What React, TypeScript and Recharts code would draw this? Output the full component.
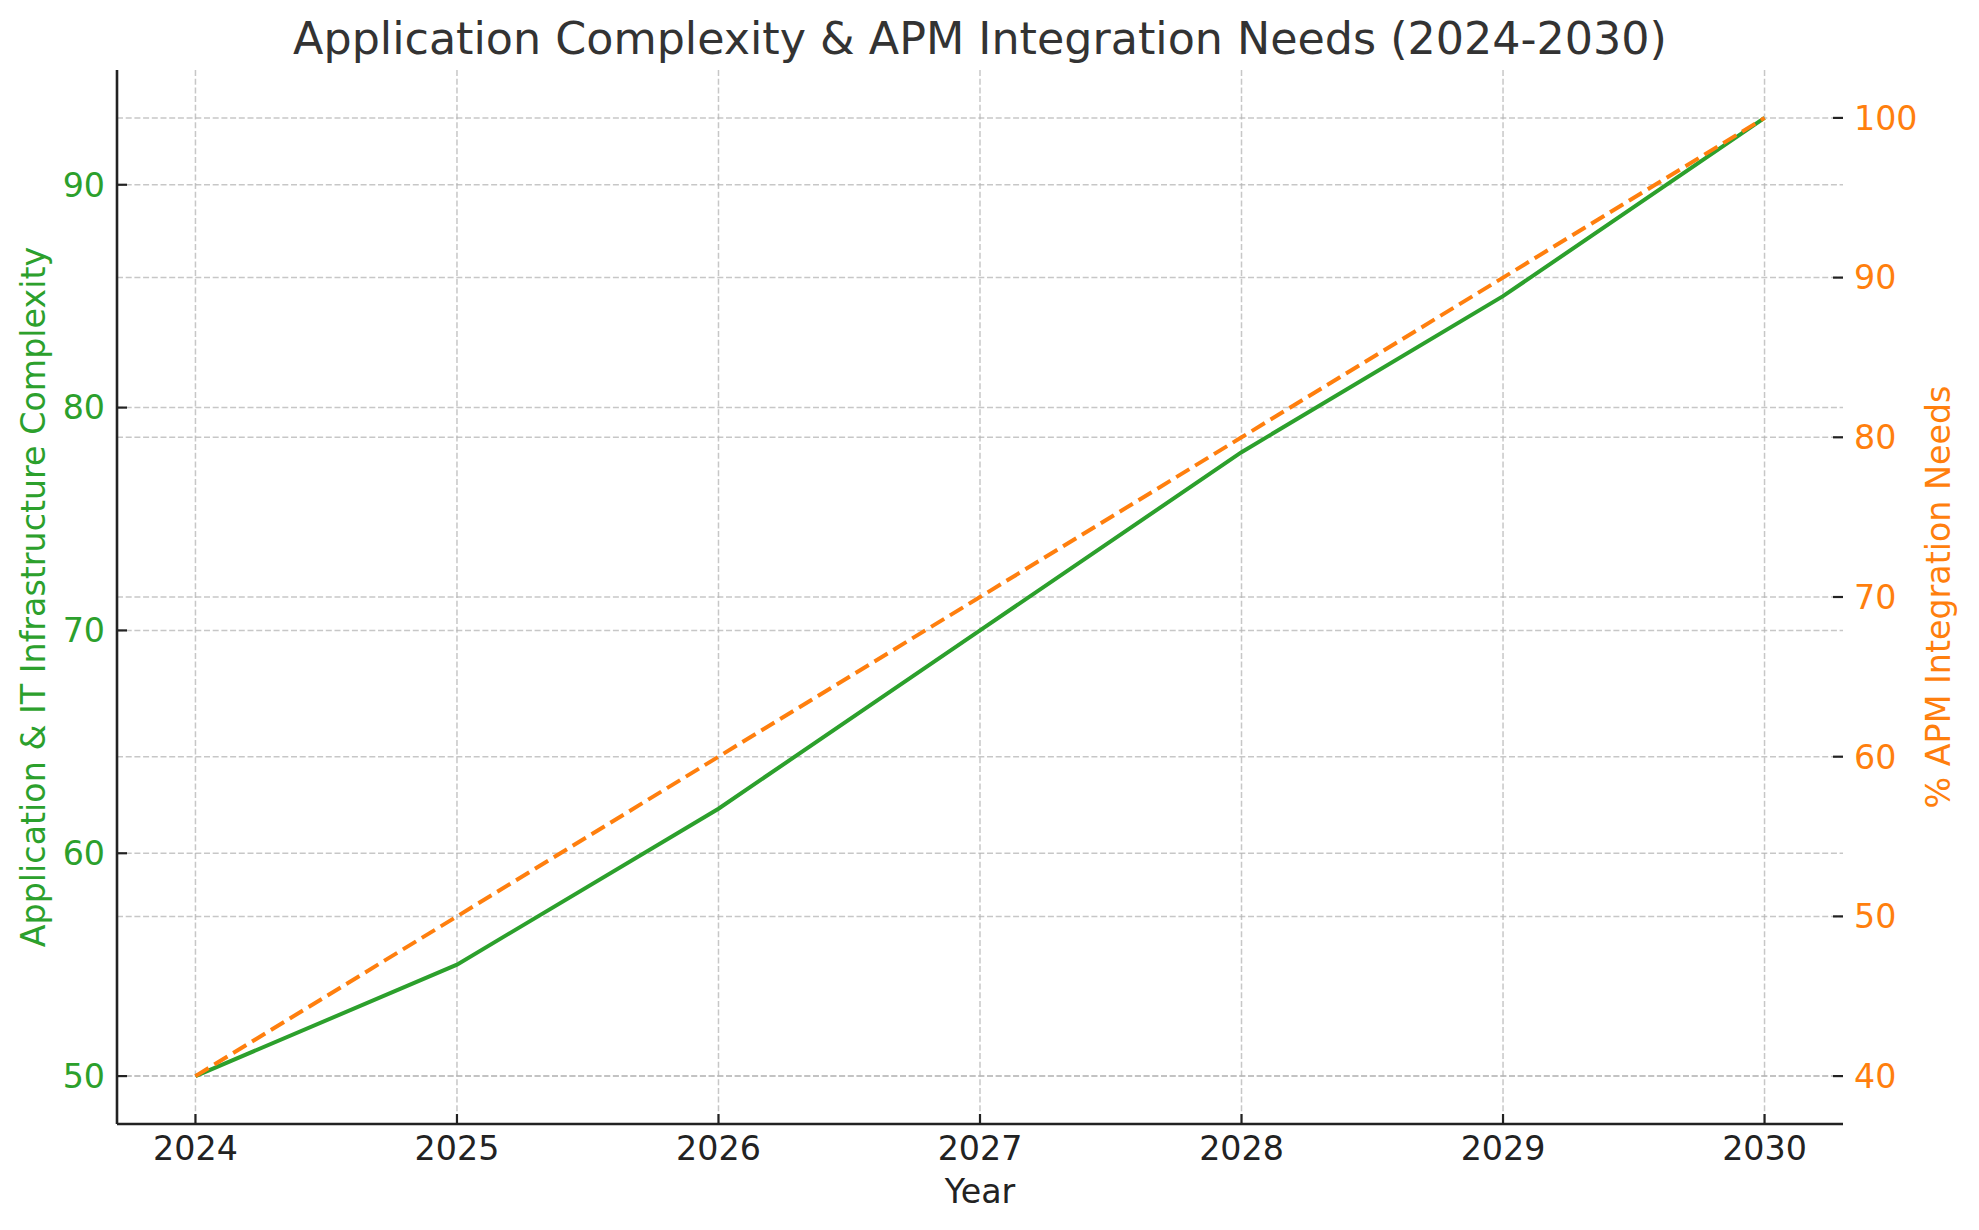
import React from "react";
import {
  LineChart,
  Line,
  XAxis,
  YAxis,
  CartesianGrid,
} from "recharts";

const years = [2024, 2025, 2026, 2027, 2028, 2029, 2030];
const complexity = [50, 55, 62, 70, 78, 85, 93];
const apmNeeds = [40, 50, 60, 70, 80, 90, 100];

const leftTicks = [50, 60, 70, 80, 90];
const rightTicks = [40, 50, 60, 70, 80, 90, 100];

const chartTitle = "Application Complexity & APM Integration Needs (2024-2030)";
const xLabel = "Year";
const leftLabel = "Application & IT Infrastructure Complexity";
const rightLabel = "% APM Integration Needs";

const data = years.map((year, i) => ({
  year,
  complexity: complexity[i],
  apm: apmNeeds[i],
}));

const GREEN = "#2ca02c";
const ORANGE = "#ff7f0e";
const INK = "#222222";
const FONT = "DejaVu Sans";
const W = 1979;
const H = 1230;

const gridProps = {
  stroke: "#b4b4b4",
  strokeOpacity: 0.75,
  strokeWidth: 1.5,
  strokeDasharray: "6 2.7",
};

export default function App() {
  return (
    <div
      style={{
        position: "absolute",
        left: 0,
        top: 0,
        width: W,
        height: H,
        background: "#ffffff",
        fontFamily: FONT,
      }}
    >
      <LineChart
        width={W}
        height={H}
        data={data}
        margin={{ top: 70, right: 135, bottom: 105, left: 116 }}
      >
        <CartesianGrid yAxisId="left" syncWithTicks {...gridProps} />
        <CartesianGrid
          yAxisId="right"
          vertical={false}
          syncWithTicks
          {...gridProps}
        />
        <XAxis
          dataKey="year"
          type="number"
          domain={[2023.7, 2030.3]}
          ticks={years}
          height={1}
          axisLine={{ stroke: INK, strokeWidth: 2.6 }}
          tickLine={{ stroke: INK, strokeWidth: 2.2 }}
          tickSize={-10}
          tickMargin={22.4}
          tick={{ fill: INK, fontSize: 33.3, fontFamily: FONT }}
        />
        <YAxis
          yAxisId="left"
          type="number"
          domain={[47.85, 95.15]}
          ticks={leftTicks}
          width={1}
          axisLine={{ stroke: INK, strokeWidth: 2.6 }}
          tickLine={{ stroke: INK, strokeWidth: 2.2 }}
          tickSize={-10}
          tickMargin={22}
          tick={{ fill: GREEN, fontSize: 33.3, fontFamily: FONT }}
        />
        <YAxis
          yAxisId="right"
          orientation="right"
          type="number"
          domain={[37, 103]}
          ticks={rightTicks}
          width={1}
          axisLine={false}
          tickLine={{ stroke: INK, strokeWidth: 2.2 }}
          tickSize={-10}
          tickMargin={21}
          tick={{ fill: ORANGE, fontSize: 33.3, fontFamily: FONT }}
        />
        <Line
          yAxisId="left"
          type="linear"
          dataKey="complexity"
          stroke={GREEN}
          strokeWidth={4}
          dot={false}
          isAnimationActive={false}
        />
        <Line
          yAxisId="right"
          type="linear"
          dataKey="apm"
          stroke={ORANGE}
          strokeWidth={4}
          strokeDasharray="15.4 6.7"
          dot={false}
          isAnimationActive={false}
        />
      </LineChart>
      <svg
        width={W}
        height={H}
        style={{ position: "absolute", left: 0, top: 0, pointerEvents: "none" }}
      >
        <text
          x={980}
          y={54}
          textAnchor="middle"
          fontSize={44.4}
          fontFamily={FONT}
          fill="#333333"
        >
          {chartTitle}
        </text>
        <text
          x={980}
          y={1203}
          textAnchor="middle"
          fontSize={33.3}
          fontFamily={FONT}
          fill={INK}
        >
          {xLabel}
        </text>
        <text
          transform="translate(45, 597) rotate(-90)"
          textAnchor="middle"
          fontSize={33.3}
          fontFamily={FONT}
          fill={GREEN}
        >
          {leftLabel}
        </text>
        <text
          transform="translate(1950, 597) rotate(-90)"
          textAnchor="middle"
          fontSize={33.3}
          fontFamily={FONT}
          fill={ORANGE}
        >
          {rightLabel}
        </text>
      </svg>
    </div>
  );
}
